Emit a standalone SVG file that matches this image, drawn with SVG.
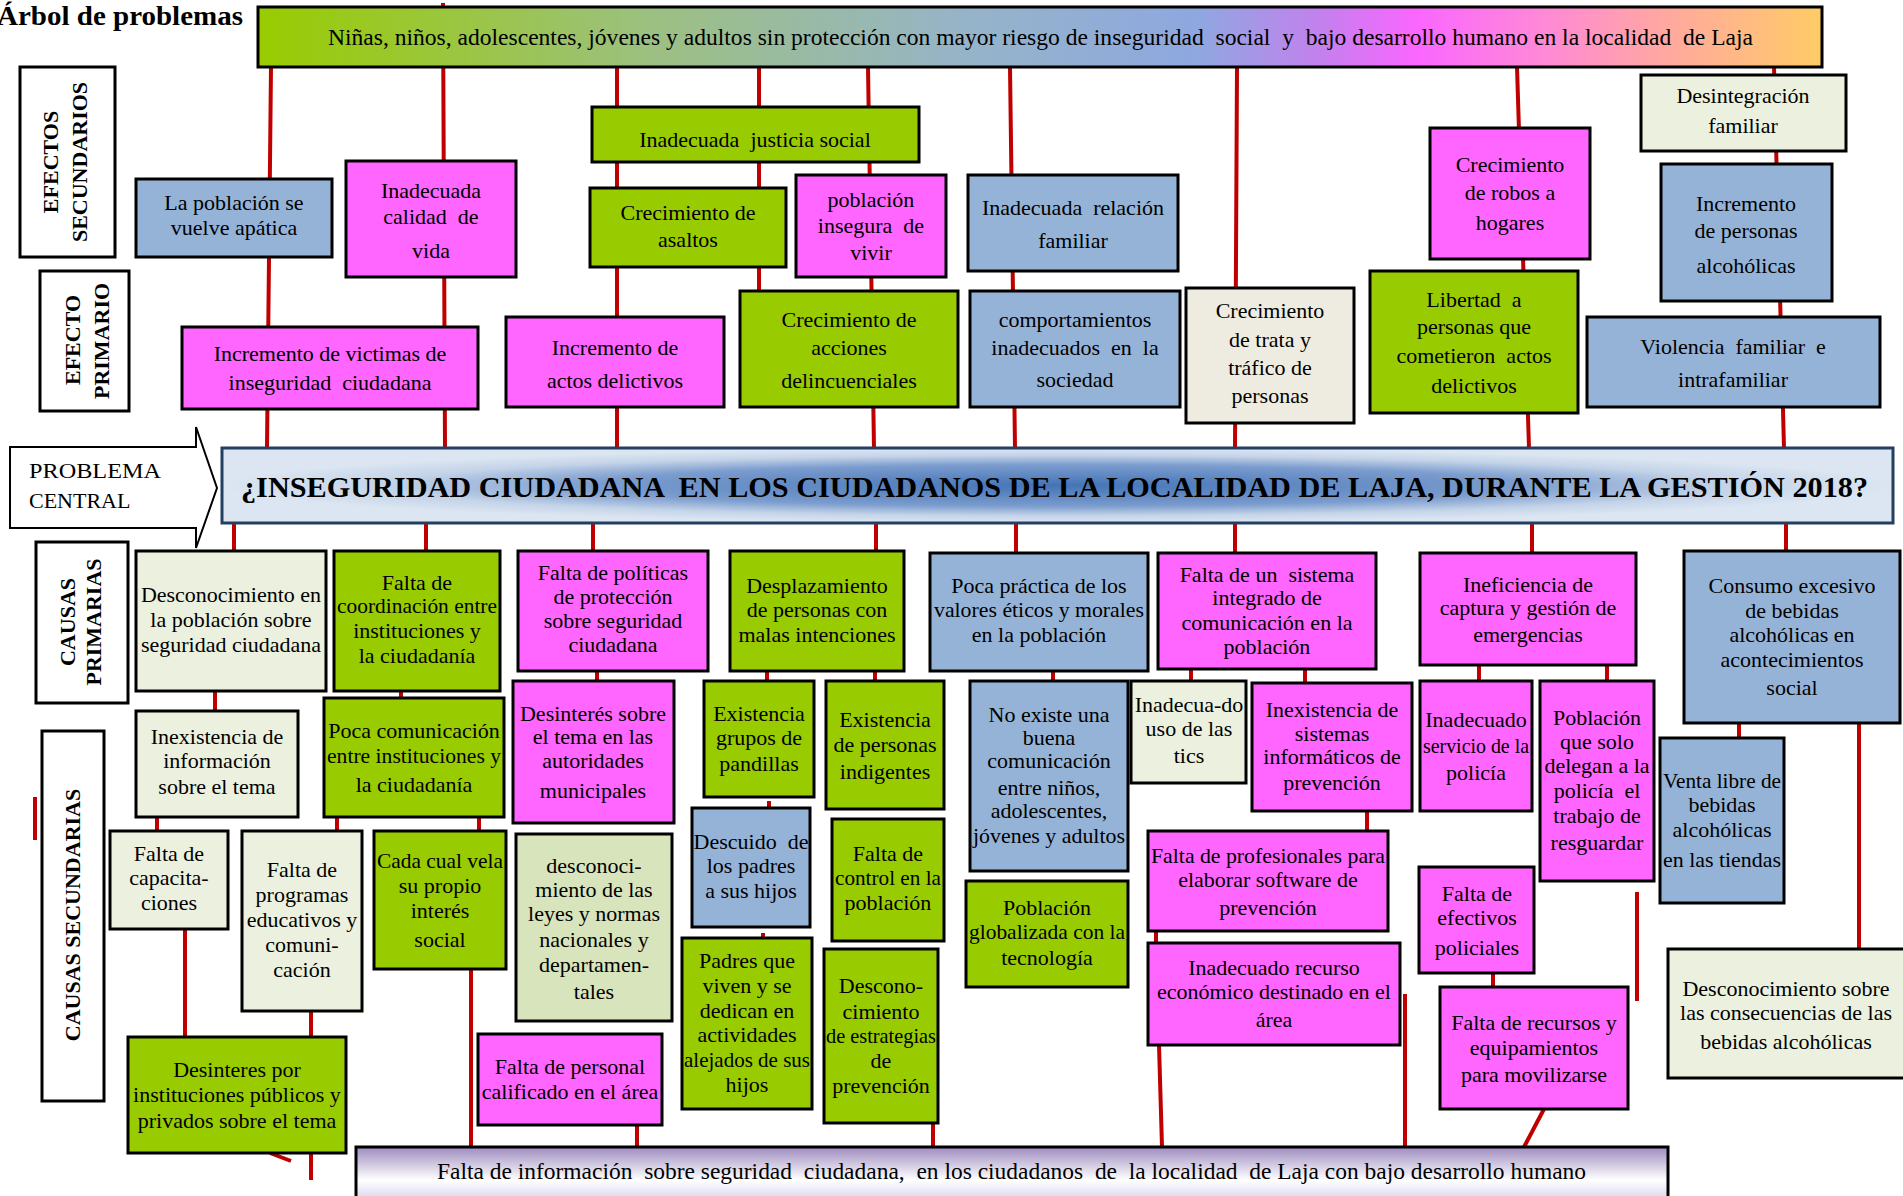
<svg xmlns="http://www.w3.org/2000/svg" width="1903" height="1196" viewBox="0 0 1903 1196">
<defs>
<linearGradient id="gTop" x1="0" y1="0" x2="1" y2="0">
<stop offset="0" stop-color="#99cc00"/>
<stop offset="0.25" stop-color="#9cc080"/>
<stop offset="0.45" stop-color="#96b4c8"/>
<stop offset="0.6" stop-color="#8ea8e0"/>
<stop offset="0.68" stop-color="#c480ee"/>
<stop offset="0.74" stop-color="#fa66ff"/>
<stop offset="0.82" stop-color="#ff88d8"/>
<stop offset="0.9" stop-color="#ffa8a0"/>
<stop offset="1" stop-color="#ffcc66"/>
</linearGradient>
<radialGradient id="gCen" cx="0.5" cy="0.5" r="0.5">
<stop offset="0" stop-color="#4474b6"/>
<stop offset="0.55" stop-color="#7b9cce"/>
<stop offset="0.8" stop-color="#c3d3e8"/>
<stop offset="1" stop-color="#dce6f2"/>
</radialGradient>
<linearGradient id="gBot" x1="0" y1="0" x2="0" y2="1">
<stop offset="0" stop-color="#9d8cbf"/>
<stop offset="0.55" stop-color="#ffffff"/>
<stop offset="1" stop-color="#cfc5e6"/>
</linearGradient>
</defs>
<style>
.bx{stroke:#000;stroke-width:3}
.m{fill:#ff66ff}.g{fill:#99cc00}.b{fill:#95b3d7}.p{fill:#ebf1de}.t{fill:#eeece1}.l{fill:#d8e4bc}.w{fill:#fff}
.tx{font-family:'Liberation Serif','Times New Roman',serif;font-size:22px;text-anchor:middle;fill:#000;white-space:pre}
.lb{font-family:'Liberation Serif','Times New Roman',serif;font-size:22px;font-weight:bold;text-anchor:middle;fill:#000}
.c{stroke:#c00000;stroke-width:4;fill:none}
.pre{white-space:pre}
</style>
<rect width="1903" height="1196" fill="#fff"/>

<g id="connectors">
<path class="c" d="M271 67L267 448M443 3L445 448M617 67L617 448M759 67L759 291M868 67L874 448M1010 67L1015 448M1237 67L1235 448M1517 67L1529 448M1774 67L1784 448"/>
<path class="c" d="M234 523V551M215 691V711M157 817V831M185 929V1037M426 523V551M401 691V698M337 817V831M479 817V831M311 1011V1037M311 1153V1180M270 1153L291 1161M471 969V1147M637 1125V1147M593 523V551M597 671V681M876 523V551M767 671V681M875 671V681M769 801V808M763 933V938M933 1123V1147M1016 523V553M1053 671V681M1235 523V553M1191 669V681M1305 669V683M1367 811V831M1156 931V943M1159 1045L1162 1147M1405 994V1147M1532 523V553M1479 665V681M1607 665V681M1493 973V987M1544 1109L1524 1147M1637 892V1001M1786 523V551M1739 723V738M1859 723V949M35 797V840"/>
</g>

<g id="title"><text x="-3" y="25" font-family="'Liberation Serif','Times New Roman',serif" font-size="27" font-weight="bold" textLength="246" lengthAdjust="spacingAndGlyphs">Árbol de problemas</text></g>

<g id="efecto_final">
<rect x="258" y="7" width="1564" height="60" fill="url(#gTop)" class="bx"/>
<text class="pre" x="328" y="45" font-family="'Liberation Serif','Times New Roman',serif" font-size="23" textLength="1425" lengthAdjust="spacingAndGlyphs">Niñas, niños, adolescentes, jóvenes y adultos sin protección con mayor riesgo de inseguridad  social  y  bajo desarrollo humano en la localidad  de Laja</text>
</g>

<g id="lbl_efectos_sec"><rect x="20" y="67" width="95" height="190" class="bx w"/>
<text class="lb" transform="translate(58,162) rotate(-90)">EFECTOS</text>
<text class="lb" transform="translate(87,162) rotate(-90)">SECUNDARIOS</text></g>
<g id="lbl_efecto_pri"><rect x="40" y="271" width="89" height="140" class="bx w"/>
<text class="lb" transform="translate(80,340) rotate(-90)">EFECTO</text>
<text class="lb" transform="translate(109,341) rotate(-90)">PRIMARIO</text></g>
<g id="lbl_problema"><path d="M10 447H196V427L217 488L196 548V528H10Z" fill="#fff" stroke="#000" stroke-width="2"/>
<text x="29" y="478" font-family="'Liberation Serif','Times New Roman',serif" font-size="22" textLength="132" lengthAdjust="spacingAndGlyphs">PROBLEMA</text>
<text x="29" y="508" font-family="'Liberation Serif','Times New Roman',serif" font-size="22">CENTRAL</text></g>
<g id="lbl_causas_pri"><rect x="36" y="542" width="92" height="161" class="bx w"/>
<text class="lb" transform="translate(75,622) rotate(-90)">CAUSAS</text>
<text class="lb" transform="translate(101,622) rotate(-90)">PRIMARIAS</text></g>
<g id="lbl_causas_sec"><rect x="42" y="731" width="62" height="370" class="bx w"/>
<text class="lb" transform="translate(80,915) rotate(-90)">CAUSAS SECUNDARIAS</text></g>

<g id="es_apatica"><rect x="136" y="179" width="196" height="78" class="bx b"/><text class="tx"><tspan x="234" y="210">La población se</tspan><tspan x="234" y="235">vuelve apática</tspan></text></g>
<g id="es_calidad"><rect x="346" y="161" width="170" height="116" class="bx m"/><text class="tx"><tspan x="431" y="198">Inadecuada</tspan><tspan x="431" y="224">calidad  de</tspan><tspan x="431" y="258">vida</tspan></text></g>
<g id="es_justicia"><rect x="592" y="107" width="327" height="55" class="bx g"/><text class="tx"><tspan x="755" y="147">Inadecuada  justicia social</tspan></text></g>
<g id="es_asaltos"><rect x="590" y="188" width="196" height="79" class="bx g"/><text class="tx"><tspan x="688" y="220">Crecimiento de</tspan><tspan x="688" y="247">asaltos</tspan></text></g>
<g id="es_insegura"><rect x="796" y="175" width="150" height="102" class="bx m"/><text class="tx"><tspan x="871" y="207">población</tspan><tspan x="871" y="233">insegura  de</tspan><tspan x="871" y="260">vivir</tspan></text></g>
<g id="es_relacion"><rect x="968" y="175" width="210" height="96" class="bx b"/><text class="tx"><tspan x="1073" y="215">Inadecuada  relación</tspan><tspan x="1073" y="248">familiar</tspan></text></g>
<g id="es_robos"><rect x="1430" y="128" width="160" height="131" class="bx m"/><text class="tx"><tspan x="1510" y="172">Crecimiento</tspan><tspan x="1510" y="200">de robos a</tspan><tspan x="1510" y="230">hogares</tspan></text></g>
<g id="es_desintegracion"><rect x="1641" y="75" width="205" height="76" class="bx p"/><text class="tx"><tspan x="1743" y="103">Desintegración</tspan><tspan x="1743" y="133">familiar</tspan></text></g>
<g id="es_alcoholicas"><rect x="1661" y="164" width="171" height="137" class="bx b"/><text class="tx"><tspan x="1746" y="211">Incremento</tspan><tspan x="1746" y="238">de personas</tspan><tspan x="1746" y="273">alcohólicas</tspan></text></g>

<g id="ep_victimas"><rect x="182" y="327" width="296" height="82" class="bx m"/><text class="tx"><tspan x="330" y="361">Incremento de victimas de</tspan><tspan x="330" y="390">inseguridad  ciudadana</tspan></text></g>
<g id="ep_actos"><rect x="506" y="317" width="218" height="90" class="bx m"/><text class="tx"><tspan x="615" y="355">Incremento de</tspan><tspan x="615" y="388">actos delictivos</tspan></text></g>
<g id="ep_acciones"><rect x="740" y="291" width="218" height="116" class="bx g"/><text class="tx"><tspan x="849" y="327">Crecimiento de</tspan><tspan x="849" y="355">acciones</tspan><tspan x="849" y="388">delincuenciales</tspan></text></g>
<g id="ep_comportamientos"><rect x="970" y="291" width="210" height="116" class="bx b"/><text class="tx"><tspan x="1075" y="327">comportamientos</tspan><tspan x="1075" y="355">inadecuados  en  la</tspan><tspan x="1075" y="387">sociedad</tspan></text></g>
<g id="ep_trata"><rect x="1186" y="288" width="168" height="135" class="bx t"/><text class="tx"><tspan x="1270" y="318">Crecimiento</tspan><tspan x="1270" y="347">de trata y</tspan><tspan x="1270" y="375">tráfico de</tspan><tspan x="1270" y="403">personas</tspan></text></g>
<g id="ep_libertad"><rect x="1370" y="271" width="208" height="142" class="bx g"/><text class="tx"><tspan x="1474" y="307">Libertad  a</tspan><tspan x="1474" y="334">personas que</tspan><tspan x="1474" y="363">cometieron  actos</tspan><tspan x="1474" y="393">delictivos</tspan></text></g>
<g id="ep_violencia"><rect x="1587" y="317" width="293" height="90" class="bx b"/><text class="tx"><tspan x="1733" y="354">Violencia  familiar  e</tspan><tspan x="1733" y="387">intrafamiliar</tspan></text></g>

<g id="problema_central"><rect x="222" y="448" width="1671" height="75" fill="url(#gCen)" stroke="#243f60" stroke-width="3"/>
<text class="pre" x="241" y="497" font-family="'Liberation Serif','Times New Roman',serif" font-size="29" font-weight="bold" textLength="1627" lengthAdjust="spacingAndGlyphs">¿INSEGURIDAD CIUDADANA  EN LOS CIUDADANOS DE LA LOCALIDAD DE LAJA, DURANTE LA GESTIÓN 2018?</text></g>

<g id="cp_desconocimiento"><rect x="136" y="551" width="190" height="140" class="bx p"/><text class="tx"><tspan x="231" y="602">Desconocimiento en</tspan><tspan x="231" y="627">la población sobre</tspan><tspan x="231" y="652">seguridad ciudadana</tspan></text></g>
<g id="cp_coordinacion"><rect x="334" y="551" width="166" height="140" class="bx g"/><text class="tx"><tspan x="417" y="590">Falta de</tspan></text><text class="tx" x="417" y="613" textLength="160" lengthAdjust="spacingAndGlyphs">coordinación entre</text><text class="tx"><tspan x="417" y="638">instituciones y</tspan><tspan x="417" y="663">la ciudadanía</tspan></text></g>
<g id="cp_politicas"><rect x="518" y="551" width="190" height="120" class="bx m"/><text class="tx"><tspan x="613" y="580">Falta de políticas</tspan><tspan x="613" y="604">de protección</tspan><tspan x="613" y="628">sobre seguridad</tspan><tspan x="613" y="652">ciudadana</tspan></text></g>
<g id="cp_desplazamiento"><rect x="730" y="551" width="174" height="120" class="bx g"/><text class="tx"><tspan x="817" y="593">Desplazamiento</tspan><tspan x="817" y="617">de personas con</tspan><tspan x="817" y="642">malas intenciones</tspan></text></g>
<g id="cp_valores"><rect x="930" y="553" width="218" height="118" class="bx b"/><text class="tx"><tspan x="1039" y="593">Poca práctica de los</tspan></text><text class="tx" x="1039" y="617" textLength="210" lengthAdjust="spacingAndGlyphs">valores éticos y morales</text><text class="tx"><tspan x="1039" y="642">en la población</tspan></text></g>
<g id="cp_sistema"><rect x="1158" y="553" width="218" height="116" class="bx m"/><text class="tx"><tspan x="1267" y="582">Falta de un  sistema</tspan><tspan x="1267" y="605">integrado de</tspan><tspan x="1267" y="630">comunicación en la</tspan><tspan x="1267" y="654">población</tspan></text></g>
<g id="cp_ineficiencia"><rect x="1420" y="553" width="216" height="112" class="bx m"/><text class="tx"><tspan x="1528" y="592">Ineficiencia de</tspan><tspan x="1528" y="615">captura y gestión de</tspan><tspan x="1528" y="642">emergencias</tspan></text></g>
<g id="cp_consumo"><rect x="1684" y="551" width="216" height="172" class="bx b"/><text class="tx"><tspan x="1792" y="593">Consumo excesivo</tspan><tspan x="1792" y="618">de bebidas</tspan><tspan x="1792" y="642">alcohólicas en</tspan><tspan x="1792" y="667">acontecimientos</tspan><tspan x="1792" y="695">social</tspan></text></g>

<g id="cs_info"><rect x="136" y="711" width="162" height="106" class="bx p"/><text class="tx"><tspan x="217" y="744">Inexistencia de</tspan><tspan x="217" y="768">información</tspan><tspan x="217" y="794">sobre el tema</tspan></text></g>
<g id="cs_pocacom"><rect x="324" y="698" width="180" height="119" class="bx g"/><text class="tx"><tspan x="414" y="738">Poca comunicación</tspan></text><text class="tx" x="414" y="763" textLength="174" lengthAdjust="spacingAndGlyphs">entre instituciones y</text><text class="tx"><tspan x="414" y="792">la ciudadanía</tspan></text></g>
<g id="cs_desinteres_aut"><rect x="513" y="681" width="161" height="142" class="bx m"/><text class="tx"><tspan x="593" y="721">Desinterés sobre</tspan><tspan x="593" y="744">el tema en las</tspan><tspan x="593" y="768">autoridades</tspan><tspan x="593" y="798">municipales</tspan></text></g>
<g id="cs_pandillas"><rect x="704" y="681" width="110" height="116" class="bx g"/><text class="tx"><tspan x="759" y="721">Existencia</tspan><tspan x="759" y="745">grupos de</tspan><tspan x="759" y="771">pandillas</tspan></text></g>
<g id="cs_indigentes"><rect x="826" y="681" width="118" height="128" class="bx g"/><text class="tx"><tspan x="885" y="727">Existencia</tspan><tspan x="885" y="752">de personas</tspan><tspan x="885" y="779">indigentes</tspan></text></g>
<g id="cs_noexiste"><rect x="970" y="681" width="158" height="190" class="bx b"/><text class="tx"><tspan x="1049" y="722">No existe una</tspan><tspan x="1049" y="745">buena</tspan><tspan x="1049" y="768">comunicación</tspan><tspan x="1049" y="795">entre niños,</tspan><tspan x="1049" y="818">adolescentes,</tspan></text><text class="tx" x="1049" y="843" textLength="152" lengthAdjust="spacingAndGlyphs">jóvenes y adultos</text></g>
<g id="cs_tics"><rect x="1131" y="681" width="115" height="102" class="bx p"/><text class="tx"><tspan x="1189" y="712">Inadecua-do</tspan><tspan x="1189" y="736">uso de las</tspan><tspan x="1189" y="763">tics</tspan></text></g>
<g id="cs_informaticos"><rect x="1252" y="683" width="160" height="128" class="bx m"/><text class="tx"><tspan x="1332" y="717">Inexistencia de</tspan><tspan x="1332" y="741">sistemas</tspan><tspan x="1332" y="764">informáticos de</tspan><tspan x="1332" y="790">prevención</tspan></text></g>
<g id="cs_servicio"><rect x="1420" y="681" width="112" height="130" class="bx m"/><text class="tx"><tspan x="1476" y="727">Inadecuado</tspan></text><text class="tx" x="1476" y="753" textLength="106" lengthAdjust="spacingAndGlyphs">servicio de la</text><text class="tx"><tspan x="1476" y="780">policía</tspan></text></g>
<g id="cs_delegan"><rect x="1540" y="681" width="114" height="200" class="bx m"/><text class="tx"><tspan x="1597" y="725">Población</tspan><tspan x="1597" y="749">que solo</tspan><tspan x="1597" y="773">delegan a la</tspan><tspan x="1597" y="798">policía  el</tspan><tspan x="1597" y="823">trabajo de</tspan><tspan x="1597" y="850">resguardar</tspan></text></g>
<g id="cs_venta"><rect x="1660" y="738" width="124" height="165" class="bx b"/><text class="tx" x="1722" y="788" textLength="118" lengthAdjust="spacingAndGlyphs">Venta libre de</text><text class="tx"><tspan x="1722" y="812">bebidas</tspan><tspan x="1722" y="837">alcohólicas</tspan></text><text class="tx" x="1722" y="867" textLength="118" lengthAdjust="spacingAndGlyphs">en las tiendas</text></g>
<g id="cs_capacitaciones"><rect x="110" y="831" width="118" height="98" class="bx p"/><text class="tx"><tspan x="169" y="861">Falta de</tspan><tspan x="169" y="885">capacita-</tspan><tspan x="169" y="910">ciones</tspan></text></g>
<g id="cs_programas"><rect x="242" y="831" width="120" height="180" class="bx p"/><text class="tx"><tspan x="302" y="877">Falta de</tspan><tspan x="302" y="902">programas</tspan><tspan x="302" y="927">educativos y</tspan><tspan x="302" y="952">comuni-</tspan><tspan x="302" y="977">cación</tspan></text></g>
<g id="cs_cadacual"><rect x="374" y="831" width="132" height="138" class="bx g"/><text class="tx" x="440" y="868" textLength="126" lengthAdjust="spacingAndGlyphs">Cada cual vela</text><text class="tx"><tspan x="440" y="893">su propio</tspan><tspan x="440" y="918">interés</tspan><tspan x="440" y="947">social</tspan></text></g>
<g id="cs_leyes"><rect x="516" y="834" width="156" height="187" class="bx l"/><text class="tx"><tspan x="594" y="873">desconoci-</tspan><tspan x="594" y="897">miento de las</tspan><tspan x="594" y="921">leyes y normas</tspan><tspan x="594" y="947">nacionales y</tspan><tspan x="594" y="972">departamen-</tspan><tspan x="594" y="999">tales</tspan></text></g>
<g id="cs_descuido"><rect x="692" y="808" width="118" height="119" class="bx b"/><text class="tx"><tspan x="751" y="849">Descuido  de</tspan><tspan x="751" y="873">los padres</tspan><tspan x="751" y="898">a sus hijos</tspan></text></g>
<g id="cs_control"><rect x="832" y="819" width="112" height="122" class="bx g"/><text class="tx"><tspan x="888" y="861">Falta de</tspan></text><text class="tx" x="888" y="885" textLength="106" lengthAdjust="spacingAndGlyphs">control en la</text><text class="tx"><tspan x="888" y="910">población</tspan></text></g>
<g id="cs_globalizada"><rect x="966" y="881" width="162" height="106" class="bx g"/><text class="tx"><tspan x="1047" y="915">Población</tspan></text><text class="tx" x="1047" y="939" textLength="156" lengthAdjust="spacingAndGlyphs">globalizada con la</text><text class="tx"><tspan x="1047" y="965">tecnología</tspan></text></g>
<g id="cs_profesionales"><rect x="1148" y="831" width="240" height="100" class="bx m"/><text class="tx" x="1268" y="863" textLength="234" lengthAdjust="spacingAndGlyphs">Falta de profesionales para</text><text class="tx"><tspan x="1268" y="887">elaborar software de</tspan><tspan x="1268" y="915">prevención</tspan></text></g>
<g id="cs_recurso"><rect x="1148" y="943" width="252" height="102" class="bx m"/><text class="tx"><tspan x="1274" y="975">Inadecuado recurso</tspan><tspan x="1274" y="999">económico destinado en el</tspan><tspan x="1274" y="1027">área</tspan></text></g>
<g id="cs_efectivos"><rect x="1419" y="867" width="115" height="106" class="bx m"/><text class="tx"><tspan x="1477" y="901">Falta de</tspan><tspan x="1477" y="925">efectivos</tspan><tspan x="1477" y="955">policiales</tspan></text></g>
<g id="cs_padres"><rect x="682" y="938" width="130" height="171" class="bx g"/><text class="tx"><tspan x="747" y="968">Padres que</tspan><tspan x="747" y="993">viven y se</tspan><tspan x="747" y="1018">dedican en</tspan><tspan x="747" y="1042">actividades</tspan></text><text class="tx" x="747" y="1067" textLength="126" lengthAdjust="spacingAndGlyphs">alejados de sus</text><text class="tx"><tspan x="747" y="1092">hijos</tspan></text></g>
<g id="cs_estrategias"><rect x="824" y="949" width="114" height="174" class="bx g"/><text class="tx"><tspan x="881" y="993">Descono-</tspan><tspan x="881" y="1019">cimiento</tspan></text><text class="tx" x="881" y="1043" textLength="110" lengthAdjust="spacingAndGlyphs">de estrategias</text><text class="tx"><tspan x="881" y="1068">de</tspan><tspan x="881" y="1093">prevención</tspan></text></g>
<g id="cs_personal"><rect x="478" y="1034" width="184" height="91" class="bx m"/><text class="tx"><tspan x="570" y="1074">Falta de personal</tspan><tspan x="570" y="1099">calificado en el área</tspan></text></g>
<g id="cs_desinteres_inst"><rect x="128" y="1037" width="218" height="116" class="bx g"/><text class="tx"><tspan x="237" y="1077">Desinteres por</tspan><tspan x="237" y="1102">instituciones públicos y</tspan><tspan x="237" y="1128">privados sobre el tema</tspan></text></g>
<g id="cs_recursos"><rect x="1440" y="987" width="188" height="122" class="bx m"/><text class="tx"><tspan x="1534" y="1030">Falta de recursos y</tspan><tspan x="1534" y="1055">equipamientos</tspan><tspan x="1534" y="1082">para movilizarse</tspan></text></g>
<g id="cs_consecuencias"><rect x="1668" y="949" width="245" height="129" class="bx p"/><text class="tx"><tspan x="1786" y="996">Desconocimiento sobre</tspan><tspan x="1786" y="1020">las consecuencias de las</tspan><tspan x="1786" y="1049">bebidas alcohólicas</tspan></text></g>

<g id="causa_raiz"><rect x="356" y="1147" width="1312" height="60" fill="url(#gBot)" class="bx"/>
<text class="pre" x="437" y="1179" font-family="'Liberation Serif','Times New Roman',serif" font-size="23" textLength="1149" lengthAdjust="spacingAndGlyphs">Falta de información  sobre seguridad  ciudadana,  en los ciudadanos  de  la localidad  de Laja con bajo desarrollo humano</text></g>
</svg>
